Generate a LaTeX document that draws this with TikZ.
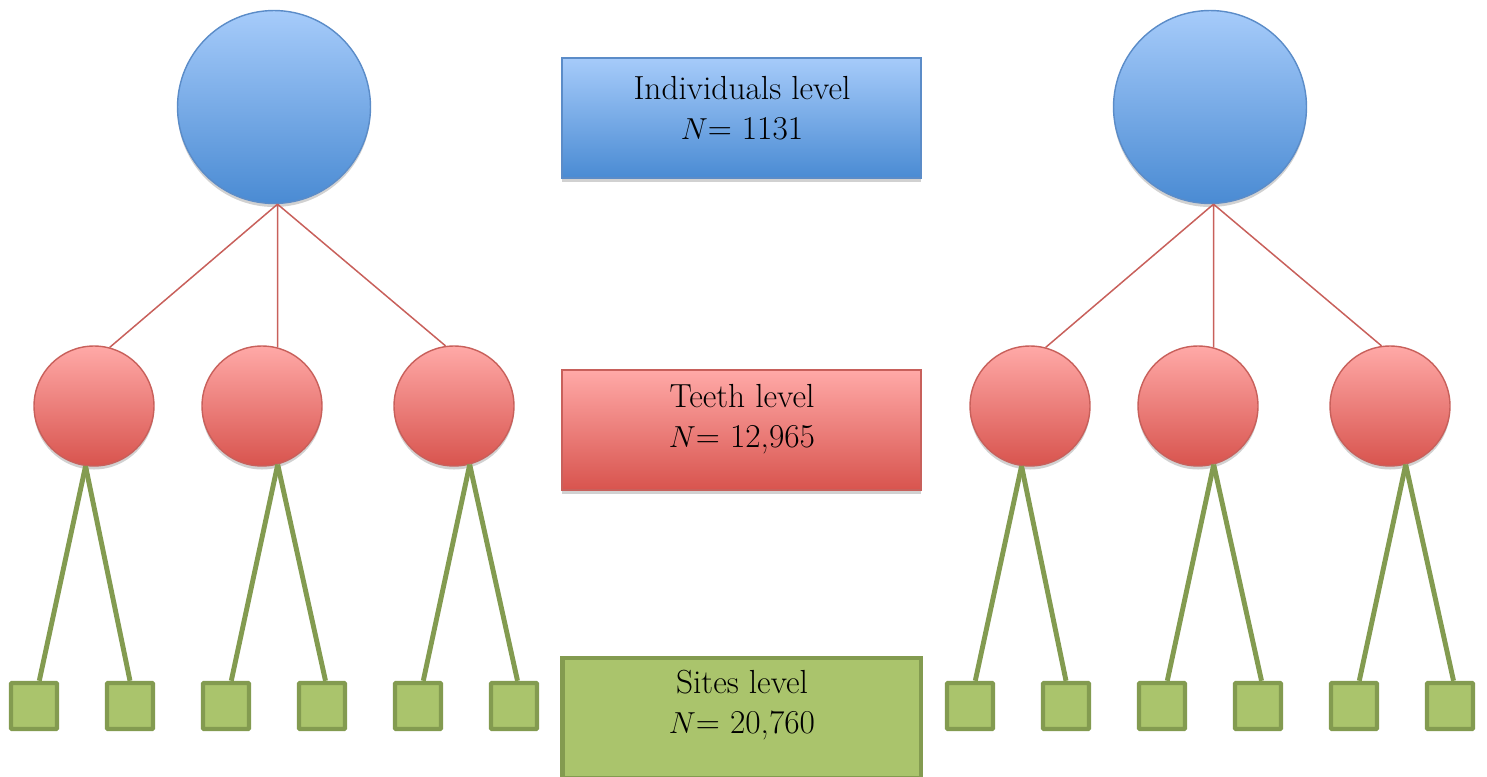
\documentclass[tikz,border=0pt]{standalone}
\usepackage{xcolor}
\usepackage{tikz}
\usetikzlibrary{shadows}

\definecolor{indtop}{HTML}{A6CBFA}
\definecolor{indbot}{HTML}{4A8BD3}
\definecolor{indline}{HTML}{5B8CC8}
\definecolor{toothtop}{HTML}{FFA9A7}
\definecolor{toothbot}{HTML}{D8544E}
\definecolor{toothline}{HTML}{C8605B}
\definecolor{sitefill}{HTML}{AAC46C}
\definecolor{siteline}{HTML}{839B50}

\begin{document}
\begin{tikzpicture}[x=0.02cm, y=-0.02cm,
    shad/.style={drop shadow={shadow xshift=0pt, shadow yshift=-2pt, opacity=.3, fill=black!60}},
    indcirc/.style={circle, draw=indline, line width=0.8pt, top color=indtop, bottom color=indbot, minimum size=3.86cm, inner sep=0pt, shad},
    toothcirc/.style={circle, draw=toothline, line width=0.8pt, top color=toothtop, bottom color=toothbot, minimum size=2.4cm, inner sep=0pt, shad},
    sitesq/.style={rectangle, draw=siteline, line width=2.5pt, fill=sitefill, minimum size=0.92cm, inner sep=0pt, rounded corners=0.5pt},
    lvlbox/.style={rectangle, minimum width=7.18cm, minimum height=2.4cm, inner sep=0pt, shad},
    lvltxt/.style={align=center, font=\fontsize{19}{23}\selectfont},
    tline/.style={draw=toothline, line width=0.85pt},
    sline/.style={draw=siteline, line width=2.8pt}
]
\useasboundingbox (0,0) rectangle (1487,777);

% level boxes
\node[lvlbox, draw=indline, line width=0.8pt, top color=indtop, bottom color=indbot] (indbox) at (741.5,118) {};
\node[lvltxt] (indtxt) at (742,108) {Individuals level\\$N$= 1131};
\node[lvlbox, draw=toothline, line width=0.8pt, top color=toothtop, bottom color=toothbot] (toothbox) at (741.5,430) {};
\node[lvltxt] (toothtxt) at (742,419) {Teeth level\\$N$= 12,965};
\node[lvlbox, draw=siteline, line width=2.8pt, fill=sitefill, drop shadow={opacity=0}] (sitebox) at (741.5,718) {};
\node[lvltxt] (sitetxt) at (742,705) {Sites level\\$N$= 20,760};

% left tree
\node[indcirc] (indL) at (274,107) {};
\node[toothcirc] (thL1) at (94,406) {};
\node[toothcirc] (thL2) at (262,406) {};
\node[toothcirc] (thL3) at (454,406) {};
\node[sitesq] (sL1) at (34,706) {};
\node[sitesq] (sL2) at (130,706) {};
\node[sitesq] (sL3) at (226,706) {};
\node[sitesq] (sL4) at (322,706) {};
\node[sitesq] (sL5) at (418,706) {};
\node[sitesq] (sL6) at (514,706) {};

\draw[tline] ([xshift=2pt]indL.south) -- (thL1.75);
\draw[tline] ([xshift=2pt]indL.south) -- (thL2.75);
\draw[tline] ([xshift=2pt]indL.south) -- (thL3.98);
\draw[sline] (thL1.262) -- ([xshift=3pt]sL1.north);
\draw[sline] (thL1.262) -- (sL2.north);
\draw[sline] (thL2.285) -- ([xshift=3pt]sL3.north);
\draw[sline] (thL2.285) -- ([xshift=2pt]sL4.north);
\draw[sline] (thL3.285) -- ([xshift=3pt]sL5.north);
\draw[sline] (thL3.285) -- ([xshift=2pt]sL6.north);

% right tree
\node[indcirc] (indR) at (1210,107) {};
\node[toothcirc] (thR1) at (1030,406) {};
\node[toothcirc] (thR2) at (1198,406) {};
\node[toothcirc] (thR3) at (1390,406) {};
\node[sitesq] (sR1) at (970,706) {};
\node[sitesq] (sR2) at (1066,706) {};
\node[sitesq] (sR3) at (1162,706) {};
\node[sitesq] (sR4) at (1258,706) {};
\node[sitesq] (sR5) at (1354,706) {};
\node[sitesq] (sR6) at (1450,706) {};

\draw[tline] ([xshift=2pt]indR.south) -- (thR1.75);
\draw[tline] ([xshift=2pt]indR.south) -- (thR2.75);
\draw[tline] ([xshift=2pt]indR.south) -- (thR3.98);
\draw[sline] (thR1.262) -- ([xshift=3pt]sR1.north);
\draw[sline] (thR1.262) -- (sR2.north);
\draw[sline] (thR2.285) -- ([xshift=3pt]sR3.north);
\draw[sline] (thR2.285) -- ([xshift=2pt]sR4.north);
\draw[sline] (thR3.285) -- ([xshift=3pt]sR5.north);
\draw[sline] (thR3.285) -- ([xshift=2pt]sR6.north);
\end{tikzpicture}
\end{document}
